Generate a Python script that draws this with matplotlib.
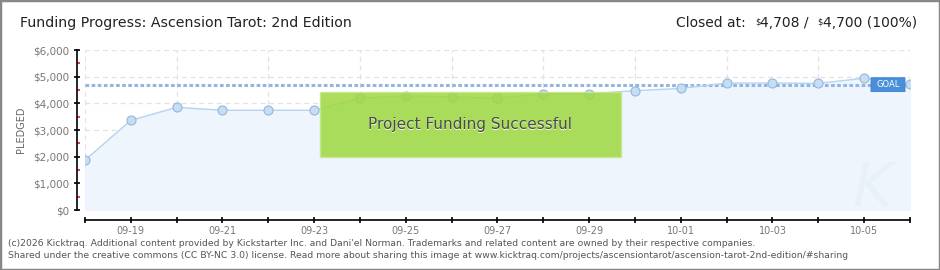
import matplotlib
matplotlib.use("Agg")
import matplotlib.pyplot as plt
import matplotlib.dates as mdates
from matplotlib.patches import Rectangle, FancyBboxPatch
import matplotlib.transforms as mtransforms
import numpy as np

# ---- data ----
dates = ["2025-09-18", "2025-09-19", "2025-09-20", "2025-09-21", "2025-09-22",
         "2025-09-23", "2025-09-24", "2025-09-25", "2025-09-26", "2025-09-27",
         "2025-09-28", "2025-09-29", "2025-09-30", "2025-10-01", "2025-10-02",
         "2025-10-03", "2025-10-04", "2025-10-05", "2025-10-06"]
pledged = [1870, 3360, 3850, 3740, 3740, 3740, 4190, 4275, 4240, 4190,
           4360, 4360, 4475, 4560, 4760, 4760, 4750, 4940, 4708]
goal = 4700
yticks = [0, 1000, 2000, 3000, 4000, 5000, 6000]
ytick_labels = ["$0", "$1,000", "$2,000", "$3,000", "$4,000", "$5,000", "$6,000"]

title = "Funding Progress: Ascension Tarot: 2nd Edition"
closed_parts = [("Closed at:  ", False), ("$", True), ("4,708 /  ", False),
                ("$", True), ("4,700 (100%)", False)]
footer1 = ("(c)2026 Kicktraq. Additional content provided by Kickstarter Inc. and Dani'el Norman. "
           "Trademarks and related content are owned by their respective companies.")
footer2 = ("Shared under the creative commons (CC BY-NC 3.0) license. Read more about sharing this "
           "image at www.kicktraq.com/projects/ascensiontarot/ascension-tarot-2nd-edition/#sharing")
banner = "Project Funding Successful"

x = np.array([np.datetime64(d) for d in dates]).astype("datetime64[D]").astype(object)
xn = mdates.date2num(x)

W, H = 940, 270
fig = plt.figure(figsize=(W / 100, H / 100), dpi=100)
fig.patch.set_facecolor("white")

ax = fig.add_axes([85 / W, (H - 210) / H, 825 / W, 160 / H])
ax.set_facecolor("white")
ax.set_xlim(xn[0], xn[-1])
ax.set_ylim(0, 6000)

# ticks / grid
ax.xaxis.set_major_locator(mdates.DayLocator(bymonthday=range(1, 32, 2)))
ax.xaxis.set_minor_locator(mdates.DayLocator())
ax.xaxis.set_major_formatter(mdates.DateFormatter("%m-%d"))
ax.set_yticks(yticks)
ax.set_yticklabels(ytick_labels)
ax.set_yticks([500, 1500, 2500, 3500, 4500, 5500], minor=True)
gridkw = dict(color="#e2e2e2", linestyle=(0, (4, 3)), linewidth=0.9)
ax.grid(True, which="minor", axis="x", **gridkw)
ax.grid(True, which="major", axis="y", **gridkw)
ax.set_axisbelow(True)

# fill + line + markers
ax.fill_between(xn, pledged, 0, color="#eef5fd", zorder=1)
ax.plot(xn, pledged, color="#b5d3f3", linewidth=1.0, zorder=3)
ax.plot(xn, pledged, linestyle="none", marker="o", markersize=6.5,
        markerfacecolor="#c6ddf6", markeredgecolor="#98b6d8", markeredgewidth=0.8, zorder=4)

# goal line
ax.axhline(goal, color="#92b6e0", linewidth=2.2, linestyle=(0, (1.2, 0.8)), zorder=2)

# watermark
ax.text(0.955, 0.13, "K", transform=ax.transAxes, fontsize=44, color="#e8f0fa",
        style="italic", ha="center", va="center", zorder=1.5)

# spines
for s in ["top", "right"]:
    ax.spines[s].set_visible(False)
ax.spines["left"].set_position(("outward", 6))
ax.spines["bottom"].set_position(("outward", 7.2))
ax.spines["left"].set_linewidth(1.2)
ax.spines["bottom"].set_linewidth(1.2)

ax.tick_params(axis="y", which="major", direction="inout", length=5, width=1.2,
               colors="black", labelcolor="#777777", labelsize=7.5, pad=3)
ax.tick_params(axis="y", which="minor", direction="in", length=2.5, width=1.2,
               colors="#e02020")
ax.tick_params(axis="x", which="both", direction="inout", length=5, width=1.2,
               colors="black", labelcolor="#777777", labelsize=7, pad=2)

ax.set_ylabel("PLEDGED", fontsize=7, color="#666666")
ax.yaxis.set_label_coords(-0.072, 0.5)

# success banner
bx0, bx1 = (320 - 85) / 825, (621 - 85) / 825
by0, by1 = (210 - 157) / 160, (210 - 92) / 160
ax.add_patch(Rectangle((bx0, by0), bx1 - bx0, by1 - by0, transform=ax.transAxes,
                       facecolor="#9fd83e", edgecolor="#c4e88c", linewidth=1.0,
                       alpha=0.85, zorder=6))
cx, cy = (bx0 + bx1) / 2, (by0 + by1) / 2
off = mtransforms.offset_copy(ax.transAxes, fig=fig, x=-0.7, y=-0.7, units="points")
ax.text(cx, cy, banner, transform=off, fontsize=11, color="#f4fbe8",
        ha="center", va="center", zorder=7)
ax.text(cx, cy, banner, transform=ax.transAxes, fontsize=11, color="#4a4a4a",
        ha="center", va="center", zorder=8)

# GOAL badge
tr = mtransforms.blended_transform_factory(ax.transAxes, ax.transData)
gx0, gx1 = (871 - 85) / 825, (905 - 85) / 825
ax.add_patch(FancyBboxPatch((gx0, goal - 260), gx1 - gx0, 520, transform=tr,
                            boxstyle="round,pad=0,rounding_size=0.002",
                            facecolor="#4a8fd9", edgecolor="#3f80cc", linewidth=0.6,
                            zorder=9, clip_on=False))
ax.text((gx0 + gx1) / 2, goal, "GOAL", transform=tr, fontsize=6, color="white",
        ha="center", va="center", zorder=10)

# title
fig.text(20 / W, 1 - 23 / H, title, fontsize=10.2, color="#222222", ha="left", va="center")

# closed at (right-aligned composite)
renderer = fig.canvas.get_renderer()
pieces = []
for txt, small in closed_parts:
    t = fig.text(0, 1 - 23 / H, txt, fontsize=6 if small else 10, color="#222222",
                 ha="left", va="bottom" if small else "center", parse_math=False)
    pieces.append((t, small))
widths = [p[0].get_window_extent(renderer).width for p in pieces]
xpos = 917 - sum(widths)
for (t, small), w in zip(pieces, widths):
    t.set_x(xpos / W)
    if small:
        t.set_y(1 - 26 / H)
    xpos += w

# footer
fig.text(8 / W, 1 - 243 / H, footer1, fontsize=6.7, color="#555555", ha="left", va="center")
fig.text(8 / W, 1 - 256 / H, footer2, fontsize=6.7, color="#555555", ha="left", va="center")

# border
fig.patches.append(Rectangle((0, 0), 1, 1, transform=fig.transFigure, fill=False,
                             edgecolor="#888888", linewidth=2.5))

fig.savefig("out.png", dpi=100)
